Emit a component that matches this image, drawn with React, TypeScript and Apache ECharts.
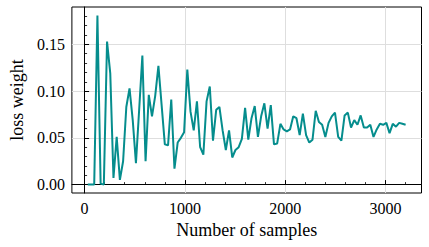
import React, { useEffect, useRef } from "react";
import * as echarts from "echarts";

const samples = [
  32, 64, 96, 128, 160, 192, 224, 256, 288, 320,
  352, 384, 416, 448, 480, 512, 544, 576, 608, 640,
  672, 704, 736, 768, 800, 832, 864, 896, 928, 960,
  992, 1024, 1056, 1088, 1120, 1152, 1184, 1216, 1248, 1280,
  1312, 1344, 1376, 1408, 1440, 1472, 1504, 1536, 1568, 1600,
  1632, 1664, 1696, 1728, 1760, 1792, 1824, 1856, 1888, 1920,
  1952, 1984, 2016, 2048, 2080, 2112, 2144, 2176, 2208, 2240,
  2272, 2304, 2336, 2368, 2400, 2432, 2464, 2496, 2528, 2560,
  2592, 2624, 2656, 2688, 2720, 2752, 2784, 2816, 2848, 2880,
  2912, 2944, 2976, 3008, 3040, 3072, 3104, 3136, 3168, 3200,
];

const lossWeight = [
  0.0, 0.0, 0.0, 0.181, 0.001, 0.0, 0.153, 0.119, 0.007, 0.051,
  0.005, 0.025, 0.083, 0.103, 0.069, 0.023, 0.08, 0.138, 0.025, 0.096,
  0.073, 0.095, 0.127, 0.085, 0.043, 0.042, 0.091, 0.017, 0.045, 0.05,
  0.056, 0.123, 0.078, 0.058, 0.089, 0.04, 0.032, 0.089, 0.105, 0.047,
  0.08, 0.083, 0.058, 0.037, 0.058, 0.029, 0.037, 0.04, 0.049, 0.082,
  0.048, 0.071, 0.084, 0.051, 0.073, 0.087, 0.06, 0.085, 0.043, 0.044,
  0.065, 0.059, 0.057, 0.059, 0.073, 0.071, 0.053, 0.076, 0.053, 0.045,
  0.048, 0.079, 0.067, 0.064, 0.051, 0.066, 0.073, 0.077, 0.051, 0.047,
  0.074, 0.077, 0.061, 0.069, 0.064, 0.074, 0.061, 0.061, 0.064, 0.051,
  0.059, 0.065, 0.064, 0.066, 0.055, 0.065, 0.062, 0.066, 0.065, 0.064,
];

const xMajorTicks = [0, 1000, 2000, 3000];
const xMinorTicks = [200, 400, 600, 800, 1200, 1400, 1600, 1800, 2200, 2400, 2600, 2800, 3200];
const yMajorTicks = [0, 0.05, 0.1, 0.15];
const yMinorTicks = [
  0.01, 0.02, 0.03, 0.04, 0.06, 0.07, 0.08, 0.09, 0.11, 0.12, 0.13, 0.14, 0.16, 0.17, 0.18,
];

const X_MIN = -126.4;
const X_MAX = 3358.4;
const Y_MIN = -0.009;
const Y_MAX = 0.19;

const FONT = "'Liberation Serif', 'Times New Roman', serif";
const LINE_COLOR = "#058d8d";

export default function App() {
  const ref = useRef<HTMLDivElement>(null);

  useEffect(() => {
    if (!ref.current) return;
    const chart = echarts.init(ref.current, undefined, { renderer: "svg" });
    const axisLine = { show: true, lineStyle: { color: "#000", width: 1 } };
    chart.setOption({
      animation: false,
      backgroundColor: "#fff",
      grid: {
        left: 69,
        right: 7.5,
        top: 7,
        bottom: 54,
        show: true,
        borderColor: "#000",
        borderWidth: 1,
        backgroundColor: "transparent",
      },
      xAxis: [
        {
          type: "value",
          position: "bottom",
          min: X_MIN,
          max: X_MAX,
          name: "Number of samples",
          nameLocation: "middle",
          nameGap: 28,
          nameTextStyle: { fontFamily: FONT, fontSize: 18, color: "#000" },
          axisLine,
          axisTick: {
            show: true,
            inside: true,
            length: 4.5,
            customValues: xMajorTicks,
            lineStyle: { color: "#000", width: 1 },
          },
          axisLabel: {
            show: true,
            customValues: xMajorTicks,
            margin: 7,
            fontFamily: FONT,
            fontSize: 16,
            color: "#000",
            formatter: (v: number) => String(Math.round(v)),
          },
          splitLine: { show: true, lineStyle: { color: "#dedede", width: 1 } },
        },
        {
          type: "value",
          position: "bottom",
          min: X_MIN,
          max: X_MAX,
          axisLine: { show: false },
          axisTick: {
            show: true,
            inside: true,
            length: 2.5,
            customValues: xMinorTicks,
            lineStyle: { color: "#000", width: 0.8 },
          },
          axisLabel: { show: false },
          splitLine: { show: false },
        },
      ],
      yAxis: [
        {
          type: "value",
          position: "left",
          min: Y_MIN,
          max: Y_MAX,
          name: "loss weight",
          nameLocation: "middle",
          nameRotate: 90,
          nameGap: 43,
          nameTextStyle: { fontFamily: FONT, fontSize: 18, color: "#000" },
          axisLine,
          axisTick: {
            show: true,
            inside: true,
            length: 4.5,
            customValues: yMajorTicks,
            lineStyle: { color: "#000", width: 1 },
          },
          axisLabel: {
            show: true,
            customValues: yMajorTicks,
            margin: 7,
            fontFamily: FONT,
            fontSize: 16,
            color: "#000",
            formatter: (v: number) => v.toFixed(2),
          },
          splitLine: { show: true, lineStyle: { color: "#dedede", width: 1 } },
        },
        {
          type: "value",
          position: "left",
          min: Y_MIN,
          max: Y_MAX,
          axisLine: { show: false },
          axisTick: {
            show: true,
            inside: true,
            length: 2.5,
            customValues: yMinorTicks,
            lineStyle: { color: "#000", width: 0.8 },
          },
          axisLabel: { show: false },
          splitLine: { show: false },
        },
      ],
      series: [
        {
          type: "line",
          xAxisIndex: 0,
          yAxisIndex: 0,
          data: samples.map((x, i) => [x, lossWeight[i]]),
          showSymbol: false,
          lineStyle: { color: LINE_COLOR, width: 2 },
          itemStyle: { color: LINE_COLOR },
          z: 5,
        },
      ],
    });
    return () => chart.dispose();
  }, []);

  return (
    <div
      ref={ref}
      style={{ position: "fixed", left: 0, top: 0, width: 429, height: 247 }}
    />
  );
}
